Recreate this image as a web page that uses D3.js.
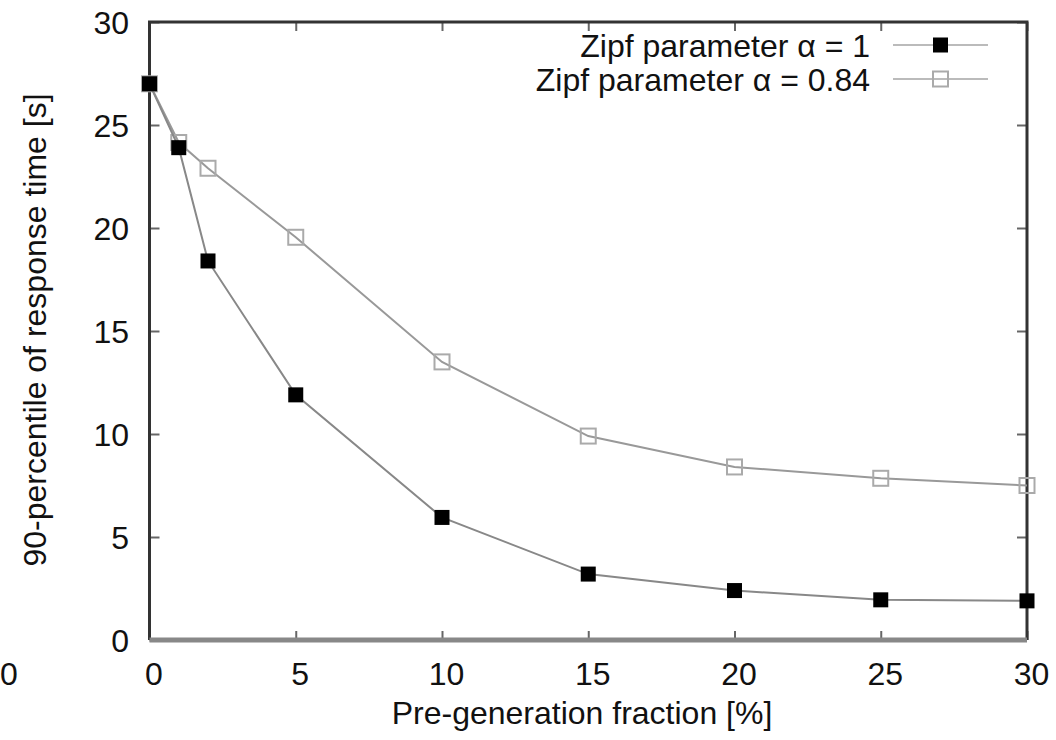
<!DOCTYPE html>
<html>
<head>
<meta charset="utf-8">
<script src="https://cdn.jsdelivr.net/npm/d3@7"></script>
<style>
  body { margin: 0; background: #fff; }
  text { font-family: "Liberation Sans", Arial, sans-serif; }
</style>
</head>
<body>
<svg id="chart" width="1056" height="740"></svg>
<script>
const xValues = [0, 1, 2, 5, 10, 15, 20, 25, 30];
const alpha1 = [27.0, 23.9, 18.4, 11.9, 5.95, 3.2, 2.4, 1.95, 1.9];
const alpha084 = [27.0, 24.15, 22.9, 19.55, 13.5, 9.9, 8.4, 7.85, 7.5];
const xTicks = [0, 5, 10, 15, 20, 25, 30];
const yTicks = [0, 5, 10, 15, 20, 25, 30];
const legendLabels = ["Zipf parameter \u03b1 = 1", "Zipf parameter \u03b1 = 0.84"];

const svg = d3.select("#chart");
const margin = { top: 22, right: 29, bottom: 100, left: 149.5 };
const width = 1056, height = 740;

const x = d3.scaleLinear().domain([0, 30]).range([margin.left, width - margin.right]);
const y = d3.scaleLinear().domain([0, 30]).range([height - margin.bottom, margin.top]);

const tickColor = "#666";

// bottom axis with labels
const gx = svg.append("g")
  .attr("transform", `translate(0,${y(0)})`)
  .call(d3.axisBottom(x).tickValues(xTicks).tickSize(-9).tickPadding(22).tickFormat(d3.format("d")));
gx.selectAll("text").attr("dx", 4);

// left axis with labels
const gy = svg.append("g")
  .attr("transform", `translate(${x(0)},0)`)
  .call(d3.axisLeft(y).tickValues(yTicks).tickSize(-10).tickPadding(20.5).tickFormat(d3.format("d")));
gy.selectAll("text").attr("dy", "0.36em");

// top and right mirror ticks
svg.append("g")
  .attr("transform", `translate(0,${y(30)})`)
  .call(d3.axisTop(x).tickValues(xTicks).tickSize(-9).tickFormat(""));
svg.append("g")
  .attr("transform", `translate(${x(30)},0)`)
  .call(d3.axisRight(y).tickValues(yTicks).tickSize(-10).tickFormat(""));

svg.selectAll(".domain").remove();
svg.selectAll(".tick line").attr("stroke", tickColor).attr("stroke-width", 2);
svg.selectAll(".tick text")
  .attr("font-size", 32)
  .attr("font-family", "'Liberation Sans', Arial, sans-serif")
  .attr("fill", "#111");

// frame
svg.append("path")
  .attr("d", `M${x(0)},${y(0)}V${y(30)}H${x(30)}V${y(0)}`)
  .attr("fill", "none")
  .attr("stroke", "#333")
  .attr("stroke-width", 3);
svg.append("line")
  .attr("x1", x(0)).attr("x2", x(30))
  .attr("y1", y(0)).attr("y2", y(0))
  .attr("stroke", "#888")
  .attr("stroke-width", 5);

// stray label at the left edge
svg.append("text")
  .attr("x", 0).attr("y", 685)
  .attr("text-anchor", "start")
  .attr("font-size", 32)
  .attr("fill", "#111")
  .text("0");

// axis titles
svg.append("text")
  .attr("x", 582).attr("y", 724)
  .attr("text-anchor", "middle")
  .attr("font-size", 32)
  .attr("fill", "#111")
  .text("Pre-generation fraction [%]");

svg.append("text")
  .attr("transform", "translate(46,330) rotate(-90)")
  .attr("text-anchor", "middle")
  .attr("font-size", 32)
  .attr("fill", "#111")
  .text("90-percentile of response time [s]");

const line = d3.line().x((d, i) => x(xValues[i])).y(d => y(d));
const msize = 15;

// series alpha = 0.84 (open squares)
svg.append("path")
  .datum(alpha084)
  .attr("d", line)
  .attr("fill", "none")
  .attr("stroke", "#999")
  .attr("stroke-width", 2);
svg.selectAll(".m2")
  .data(alpha084)
  .enter()
  .append("rect")
  .attr("class", "m2")
  .attr("x", (d, i) => x(xValues[i]) - msize / 2)
  .attr("y", d => y(d) - msize / 2)
  .attr("width", msize).attr("height", msize)
  .attr("fill", "#fff")
  .attr("fill-opacity", 0)
  .attr("stroke", "#aaa")
  .attr("stroke-width", 2);

// series alpha = 1 (filled squares)
svg.append("path")
  .datum(alpha1)
  .attr("d", line)
  .attr("fill", "none")
  .attr("stroke", "#888")
  .attr("stroke-width", 2);
svg.selectAll(".m1")
  .data(alpha1)
  .enter()
  .append("rect")
  .attr("class", "m1")
  .attr("x", (d, i) => x(xValues[i]) - msize / 2)
  .attr("y", d => y(d) - msize / 2)
  .attr("width", msize).attr("height", msize)
  .attr("fill", "#000");

// legend
const legendRows = [45, 79];
legendLabels.forEach((label, i) => {
  const ly = legendRows[i];
  svg.append("text")
    .attr("x", 870).attr("y", ly + 12)
    .attr("text-anchor", "end")
    .attr("font-size", 32)
    .attr("fill", "#111")
    .text(label);
  svg.append("line")
    .attr("x1", 893).attr("x2", 988)
    .attr("y1", ly).attr("y2", ly)
    .attr("stroke", "#bbb")
    .attr("stroke-width", 2);
  const r = svg.append("rect")
    .attr("x", 940.5 - msize / 2).attr("y", ly - msize / 2)
    .attr("width", msize).attr("height", msize);
  if (i === 0) r.attr("fill", "#000");
  else r.attr("fill", "none").attr("stroke", "#aaa").attr("stroke-width", 2);
});
</script>
</body>
</html>
